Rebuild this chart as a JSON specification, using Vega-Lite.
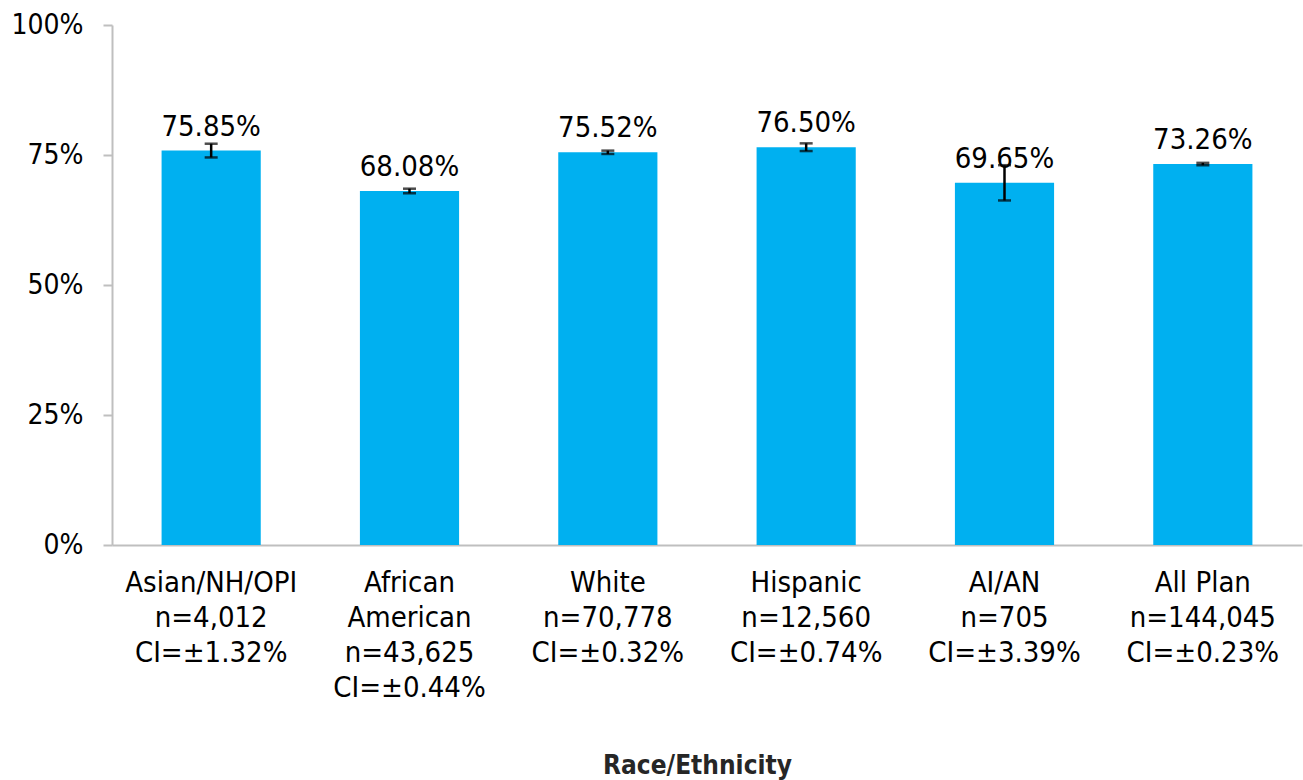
{
  "$schema": "https://vega.github.io/schema/vega-lite/v6.json",
  "width": 1190,
  "height": 520,
  "autosize": {"type": "none"},
  "padding": {"left": 112, "top": 25, "right": 1, "bottom": 235},
  "background": "white",
  "config": {
    "view": {"stroke": null},
    "font": "DejaVu Sans Condensed"
  },
  "data": {
    "values": [
      {"group": "Asian/NH/OPI|n=4,012|CI=±1.32%", "rate": 0.7585, "lo": 0.7453, "hi": 0.7717},
      {"group": "African|American|n=43,625|CI=±0.44%", "rate": 0.6808, "lo": 0.6764, "hi": 0.6852},
      {"group": "White|n=70,778|CI=±0.32%", "rate": 0.7552, "lo": 0.7520, "hi": 0.7584},
      {"group": "Hispanic|n=12,560|CI=±0.74%", "rate": 0.7650, "lo": 0.7576, "hi": 0.7724},
      {"group": "AI/AN|n=705|CI=±3.39%", "rate": 0.6965, "lo": 0.6626, "hi": 0.7304},
      {"group": "All Plan|n=144,045|CI=±0.23%", "rate": 0.7326, "lo": 0.7303, "hi": 0.7349}
    ]
  },
  "encoding": {
    "x": {
      "field": "group",
      "type": "nominal",
      "sort": null,
      "scale": {"paddingInner": 0.5, "paddingOuter": 0.25},
      "axis": {
        "title": "Race/Ethnicity",
        "titleFont": "DejaVu Sans Condensed",
        "titleFontSize": 26,
        "titleFontWeight": "bold",
        "titleColor": "#262626",
        "titlePadding": 50,
        "titleX": 585,
        "labelExpr": "split(datum.label, '|')",
        "labelAngle": 0,
        "labelFontSize": 29,
        "labelColor": "#000000",
        "labelLineHeight": 35,
        "labelPadding": 23,
        "labelBaseline": "top",
        "labelFont": "DejaVu Sans Condensed",
        "ticks": false,
        "domainColor": "#BFBFBF",
        "domainWidth": 2
      }
    }
  },
  "layer": [
    {
      "mark": {"type": "bar", "color": "#00B0F0"},
      "encoding": {
        "y": {
          "field": "rate",
          "type": "quantitative",
          "scale": {"domain": [0, 1]},
          "axis": {
            "title": null,
            "values": [0, 0.25, 0.5, 0.75, 1],
            "format": ".0%",
            "grid": false,
            "labelFontSize": 28,
            "labelColor": "#000000",
            "labelFont": "DejaVu Sans Condensed",
            "labelPadding": 20,
            "tickSize": 9,
            "tickColor": "#BFBFBF",
            "tickWidth": 2,
            "domainColor": "#BFBFBF",
            "domainWidth": 2
          }
        }
      }
    },
    {
      "mark": {"type": "text", "fontSize": 29, "baseline": "alphabetic", "dy": -15, "color": "#000000"},
      "encoding": {
        "y": {"field": "rate", "type": "quantitative"},
        "text": {"field": "rate", "type": "quantitative", "format": ".2%"}
      }
    },
    {
      "mark": {"type": "rule", "color": "#000000", "strokeWidth": 2.5},
      "encoding": {
        "y": {"field": "lo", "type": "quantitative"},
        "y2": {"field": "hi"}
      }
    },
    {
      "mark": {"type": "tick", "color": "#000000", "size": 13, "thickness": 2.5, "orient": "horizontal"},
      "encoding": {
        "y": {"field": "lo", "type": "quantitative"}
      }
    },
    {
      "mark": {"type": "tick", "color": "#000000", "size": 13, "thickness": 2.5, "orient": "horizontal"},
      "encoding": {
        "y": {"field": "hi", "type": "quantitative"}
      }
    }
  ]
}
